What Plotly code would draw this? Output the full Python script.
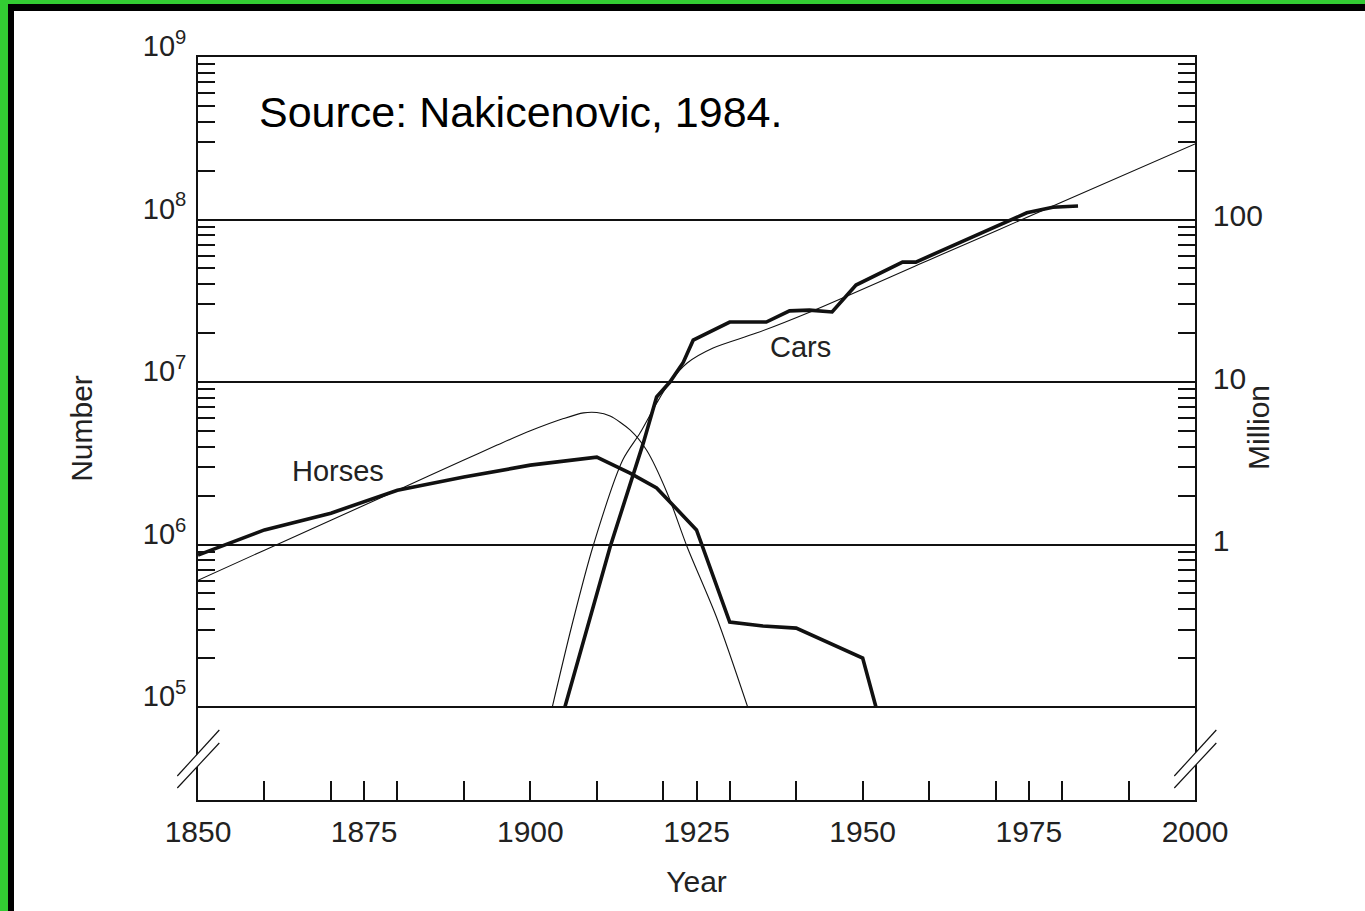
import plotly.graph_objects as go

# ---------------- data ----------------
horse_years = [1850, 1860, 1870, 1880, 1890, 1900, 1910, 1915, 1919, 1921, 1925, 1930, 1935, 1940, 1950, 1952]
horses = [8.6e5, 1.23e6, 1.56e6, 2.16e6, 2.6e6, 3.08e6, 3.45e6, 2.75e6, 2.23e6, 1.83e6, 1.23e6,
          3.33e5, 3.15e5, 3.06e5, 2.0e5, 1.0e5]

horse_fit_years = [1850, 1860, 1870, 1880, 1890, 1895, 1900, 1905, 1908, 1910, 1912, 1915, 1917.5,
                   1920.6, 1923.6, 1928, 1932.7]
horses_fit = [6.03e5, 9.23e5, 1.41e6, 2.16e6, 3.31e6, 4.09e6, 5.01e6, 5.96e6, 6.46e6, 6.49e6, 6.17e6,
              5.07e6, 3.80e6, 2.07e6, 9.66e5, 3.58e5, 1.0e5]

car_years = [1905.2, 1912, 1917, 1919, 1921, 1923, 1924.5, 1930, 1935.5, 1939, 1942, 1945.4, 1949,
             1956, 1958, 1973.2, 1974.7, 1978.6, 1982.4]
cars = [1.0e5, 9.66e5, 4.22e6, 8.09e6, 1.0e7, 1.32e7, 1.81e7, 2.34e7, 2.34e7, 2.74e7, 2.77e7, 2.70e7,
        3.95e7, 5.47e7, 5.47e7, 1.035e8, 1.10e8, 1.19e8, 1.21e8]

car_fit_years = [1903.3, 1906.2, 1909.4, 1913.9, 1916.5, 1919, 1921, 1923.6, 1927.5, 1934, 1942, 1960,
                 1980, 2000]
cars_fit = [1.0e5, 3.12e5, 9.66e5, 3.31e6, 4.85e6, 7.41e6, 1.0e7, 1.31e7, 1.62e7, 2.0e7, 2.69e7,
            5.64e7, 1.28e8, 2.92e8]

x_label_ticks = [1850, 1875, 1900, 1925, 1950, 1975, 2000]
x_other_ticks = [1860, 1870, 1880, 1890, 1910, 1920, 1930, 1940, 1960, 1970, 1980, 1990]
left_vals = [1e5, 1e6, 1e7, 1e8, 1e9]
left_text = ["10<sup>5</sup>", "10<sup>6</sup>", "10<sup>7</sup>", "10<sup>8</sup>", "10<sup>9</sup>"]
right_vals = [1e6, 1e7, 1e8]
right_text = ["1", "10", "100"]
right_plain_ticks = [1e5, 1e9]
y_minor = [k * 10 ** n for n in range(5, 9) for k in range(2, 10)]

# ---------------- layout geometry ----------------
W, H = 1365, 911
L, R, T, B = 198, 1195, 57, 800       # plot area in pixels
pw, ph = R - L, B - T


def px(x):
    return (x - L) / pw


def py(y):
    return (B - y) / ph


INK = "#111111"
FONT = "Liberation Sans, Arial, Helvetica, sans-serif"
TXT = "#222222"

fig = go.Figure()
fig.add_trace(go.Scatter(x=horse_fit_years, y=horses_fit, mode="lines", name="Horses (fit)",
                         line=dict(color=INK, width=1.1, shape="spline", smoothing=0.8), showlegend=False))
fig.add_trace(go.Scatter(x=car_fit_years, y=cars_fit, mode="lines", name="Cars (fit)",
                         line=dict(color=INK, width=1.1, shape="spline", smoothing=0.8), showlegend=False))
fig.add_trace(go.Scatter(x=horse_years, y=horses, mode="lines", name="Horses",
                         line=dict(color=INK, width=3.6), showlegend=False))
fig.add_trace(go.Scatter(x=car_years, y=cars, mode="lines", name="Cars",
                         line=dict(color=INK, width=3.6), showlegend=False, yaxis="y2"))

shapes = []
# axis-break marks on both vertical axes
for cx in (L, R):
    shapes.append(dict(type="path", xref="paper", yref="paper", layer="above",
                       path=f"M {px(cx-5)},{py(758.8)} L {px(cx+5)},{py(747.9)} L {px(cx+5)},{py(760.5)} L {px(cx-5)},{py(771.2)} Z",
                       fillcolor="white", line=dict(width=0)))
    shapes.append(dict(type="line", xref="paper", yref="paper", layer="above",
                       x0=px(cx - 20.7), y0=py(776), x1=px(cx + 21.3), y1=py(730),
                       line=dict(color=INK, width=1.2)))
    shapes.append(dict(type="line", xref="paper", yref="paper", layer="above",
                       x0=px(cx - 20.7), y0=py(788), x1=px(cx + 21.3), y1=py(743),
                       line=dict(color=INK, width=1.2)))

# frame of the picture (green + black on top and left)
shapes += [
    dict(type="rect", xref="paper", yref="paper", x0=px(0), x1=px(8), y0=py(H), y1=py(0),
         fillcolor="#33cc33", line=dict(width=0), layer="above"),
    dict(type="rect", xref="paper", yref="paper", x0=px(0), x1=px(W), y0=py(4), y1=py(0),
         fillcolor="#33cc33", line=dict(width=0), layer="above"),
    dict(type="rect", xref="paper", yref="paper", x0=px(8), x1=px(14), y0=py(H), y1=py(4),
         fillcolor="black", line=dict(width=0), layer="above"),
    dict(type="rect", xref="paper", yref="paper", x0=px(8), x1=px(W), y0=py(11), y1=py(4),
         fillcolor="black", line=dict(width=0), layer="above"),
]

annotations = [
    dict(text="Source: Nakicenovic, 1984.", xref="paper", yref="paper", x=px(257), y=py(112),
         xanchor="left", yanchor="middle", showarrow=False,
         font=dict(family=FONT, size=43, color="black")),
    dict(text="Horses", xref="paper", yref="paper", x=px(338), y=py(471), showarrow=False,
         xanchor="center", yanchor="middle", font=dict(family=FONT, size=29, color=TXT)),
    dict(text="Cars", xref="paper", yref="paper", x=px(800), y=py(347), showarrow=False,
         xanchor="center", yanchor="middle", font=dict(family=FONT, size=29, color=TXT)),
    dict(text="Million", xref="paper", yref="paper", x=px(1258), y=py(428), showarrow=False,
         textangle=-90, xanchor="center", yanchor="middle", font=dict(family=FONT, size=30, color=TXT)),
]

yrange = [4.428, 9.0]
tickfont = dict(family=FONT, size=30, color=TXT)

fig.update_layout(
    width=W, height=H, template="none",
    margin=dict(l=L, r=W - R, t=T, b=H - B, pad=0),
    paper_bgcolor="white", plot_bgcolor="white",
    showlegend=False,
    shapes=shapes, annotations=annotations,
    xaxis=dict(range=[1850, 2000], showgrid=False, zeroline=False,
               showline=True, linecolor=INK, linewidth=1.6, mirror=True,
               tickmode="array", tickvals=x_label_ticks, ticktext=[str(v) for v in x_label_ticks],
               ticks="inside", ticklen=19, tickwidth=1.5, tickcolor=INK,
               minor=dict(tickmode="array", tickvals=x_other_ticks, ticks="inside", ticklen=19,
                          tickwidth=1.5, tickcolor=INK, showgrid=False),
               tickfont=tickfont, ticklabelstandoff=4,
               title=dict(text="Year", font=dict(family=FONT, size=30, color=TXT), standoff=24)),
    yaxis=dict(type="log", range=yrange, zeroline=False,
               showline=True, linecolor=INK, linewidth=1.6,
               showgrid=True, gridcolor=INK, gridwidth=1.5,
               tickmode="array", tickvals=left_vals, ticktext=left_text,
               ticks="inside", ticklen=17, tickwidth=1.5, tickcolor=INK,
               minor=dict(tickmode="array", tickvals=y_minor, ticks="inside", ticklen=17,
                          tickwidth=1.5, tickcolor=INK, showgrid=False),
               tickfont=dict(family=FONT, size=29, color=TXT), ticklabelshift=-11,
               ticklabelstandoff=4,
               title=dict(text="Number", font=dict(family=FONT, size=30, color=TXT), standoff=41)),
    yaxis2=dict(type="log", range=yrange, overlaying="y", side="right", zeroline=False,
                showline=True, linecolor=INK, linewidth=1.6, showgrid=False,
                tickmode="array", tickvals=right_vals, ticktext=right_text,
                ticks="inside", ticklen=17, tickwidth=1.5, tickcolor=INK,
                minor=dict(tickmode="array", tickvals=y_minor + right_plain_ticks, ticks="inside",
                           ticklen=17, tickwidth=1.5, tickcolor=INK, showgrid=False),
                tickfont=tickfont, ticklabelshift=-4, ticklabelstandoff=10),
)

fig.write_html("out.html", config={"displayModeBar": False},
               post_script="document.body.style.margin='0';")
